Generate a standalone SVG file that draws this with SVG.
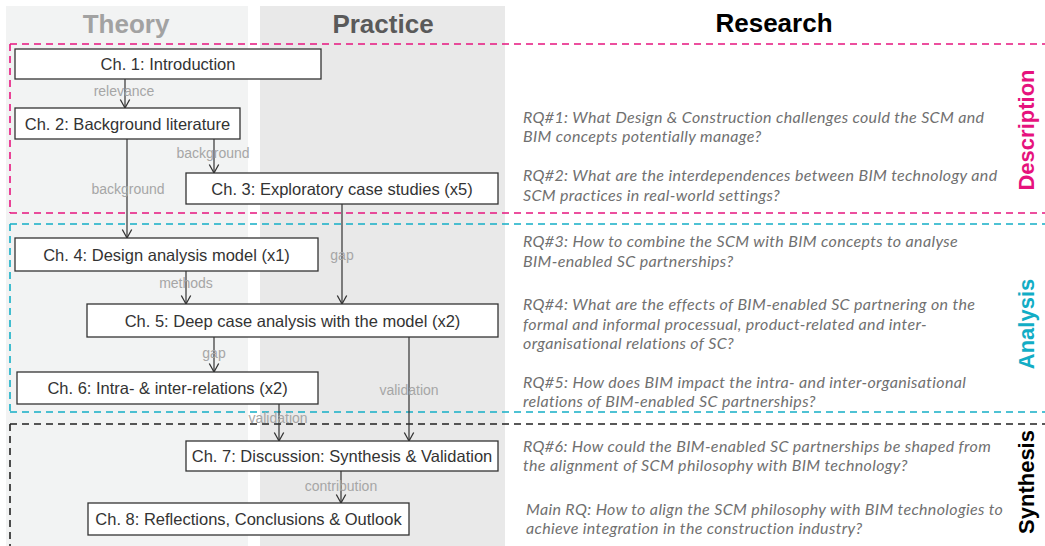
<svg xmlns="http://www.w3.org/2000/svg" width="1045" height="546" viewBox="0 0 1045 546">
<style>
.col{font-family:"Liberation Sans",Arial,sans-serif;font-weight:bold;font-size:26px;text-anchor:middle}
.box{fill:#fff;stroke:#333;stroke-width:1.3}
.bt{font-family:"Liberation Sans",Arial,sans-serif;font-size:16.5px;fill:#333;text-anchor:middle}
.lbl{font-family:"Liberation Sans",Arial,sans-serif;font-size:14px;fill:#a6a6a6;text-anchor:middle}
.con{stroke:#333;stroke-width:1.2;fill:none;marker-end:url(#ah)}
.rq{font-family:Lato,"Open Sans",sans-serif;font-style:italic;font-size:16px;letter-spacing:0.35px;fill:#707070}
.side{font-family:"Liberation Sans",Arial,sans-serif;font-weight:bold;font-size:22px;text-anchor:middle}
.dash{fill:none;stroke-width:1.6;stroke-dasharray:7 5}
</style>
<defs>
<marker id="ah" markerUnits="userSpaceOnUse" markerWidth="12" markerHeight="12" viewBox="0 0 12 12" refX="10" refY="6" orient="auto">
<path d="M1.5,1.3 L10,6 L1.5,10.7" fill="none" stroke="#333" stroke-width="1.3"/>
</marker>
</defs>
<rect width="1045" height="546" fill="#fff"/>
<g id="columns">
<rect x="6" y="6" width="242" height="540" fill="#f2f3f3"/>
<rect x="260" y="6" width="245" height="540" fill="#e9e9e9"/>
<text class="col" x="126" y="33" fill="#a2a2a2">Theory</text>
<text class="col" x="383" y="33" fill="#5a5a5a">Practice</text>
<text class="col" x="774" y="32" fill="#000">Research</text>
</g>
<g id="phases">
<path class="dash" stroke="#e6167f" d="M10,44 H1045 M10,44 V213 M10,213 H1045"/>
<path class="dash" stroke="#14afc6" d="M10,224 H1045 M10,224 V412 M10,412 H1045"/>
<path class="dash" stroke="#222" d="M10,424 H1045 M10,424 V546"/>
<text class="side" transform="translate(1034,130) rotate(-90)" fill="#e6127d">Description</text>
<text class="side" transform="translate(1034,324) rotate(-90)" fill="#12adc5">Analysis</text>
<text class="side" transform="translate(1034,482) rotate(-90)" fill="#000">Synthesis</text>
</g>
<g id="connectors">
<line class="con" x1="125" y1="79" x2="125" y2="108"/>
<line class="con" x1="214" y1="139" x2="214" y2="173"/>
<line class="con" x1="127" y1="139" x2="127" y2="238"/>
<line class="con" x1="342" y1="204" x2="342" y2="304"/>
<line class="con" x1="186" y1="271" x2="186" y2="304"/>
<line class="con" x1="214" y1="337" x2="214" y2="372"/>
<line class="con" x1="409" y1="337" x2="409" y2="441"/>
<line class="con" x1="279" y1="404" x2="279" y2="441"/>
<line class="con" x1="341" y1="471" x2="341" y2="503"/>
<text class="lbl" x="124" y="96">relevance</text>
<text class="lbl" x="213" y="158">background</text>
<text class="lbl" x="128" y="194">background</text>
<text class="lbl" x="342" y="260">gap</text>
<text class="lbl" x="186" y="288">methods</text>
<text class="lbl" x="214" y="358">gap</text>
<text class="lbl" x="409" y="395">validation</text>
<text class="lbl" x="278" y="423">validation</text>
<text class="lbl" x="341" y="491">contribution</text>
</g>
<g id="ch1"><rect class="box" x="15" y="49" width="306" height="30"/><text class="bt" x="168" y="70">Ch. 1: Introduction</text></g>
<g id="ch2"><rect class="box" x="15" y="108" width="225" height="31"/><text class="bt" x="127.5" y="129.5">Ch. 2: Background literature</text></g>
<g id="ch3"><rect class="box" x="186" y="173" width="312" height="31"/><text class="bt" x="342" y="194.5">Ch. 3: Exploratory case studies (x5)</text></g>
<g id="ch4"><rect class="box" x="15" y="238" width="303" height="33"/><text class="bt" x="166.5" y="260.5">Ch. 4: Design analysis model (x1)</text></g>
<g id="ch5"><rect class="box" x="87" y="304" width="411" height="33"/><text class="bt" x="292.5" y="326.5">Ch. 5: Deep case analysis with the model (x2)</text></g>
<g id="ch6"><rect class="box" x="17" y="372" width="301" height="32"/><text class="bt" x="167.5" y="393.5">Ch. 6: Intra- &amp; inter-relations (x2)</text></g>
<g id="ch7"><rect class="box" x="186" y="441" width="312" height="30"/><text class="bt" x="342" y="461.5">Ch. 7: Discussion: Synthesis &amp; Validation</text></g>
<g id="ch8"><rect class="box" x="88" y="503" width="321" height="32"/><text class="bt" x="248.5" y="524.5">Ch. 8: Reflections, Conclusions &amp; Outlook</text></g>
<g id="questions">
<text class="rq" x="523" y="123">RQ#1: What Design &amp; Construction challenges could the SCM and</text>
<text class="rq" x="523" y="142">BIM  concepts potentially manage?</text>
<text class="rq" x="523" y="181">RQ#2: What are the interdependences between BIM technology and</text>
<text class="rq" x="523" y="201">SCM practices in real-world settings?</text>
<text class="rq" x="523" y="247">RQ#3: How to combine the SCM with BIM concepts to analyse</text>
<text class="rq" x="523" y="267">BIM-enabled SC partnerships?</text>
<text class="rq" x="523" y="310">RQ#4: What are the effects of BIM-enabled SC partnering on the</text>
<text class="rq" x="523" y="330">formal and informal processual, product-related and inter-</text>
<text class="rq" x="523" y="349">organisational relations of SC?</text>
<text class="rq" x="523" y="388">RQ#5: How does BIM impact the intra- and inter-organisational</text>
<text class="rq" x="523" y="407">relations of BIM-enabled SC partnerships?</text>
<text class="rq" x="523" y="452">RQ#6: How could the BIM-enabled SC partnerships be shaped from</text>
<text class="rq" x="523" y="471">the alignment of SCM philosophy with BIM technology?</text>
<text class="rq" x="526" y="515">Main RQ: How to align the SCM philosophy with BIM technologies to</text>
<text class="rq" x="526" y="534">achieve integration in the construction industry?</text>
</g>
</svg>
